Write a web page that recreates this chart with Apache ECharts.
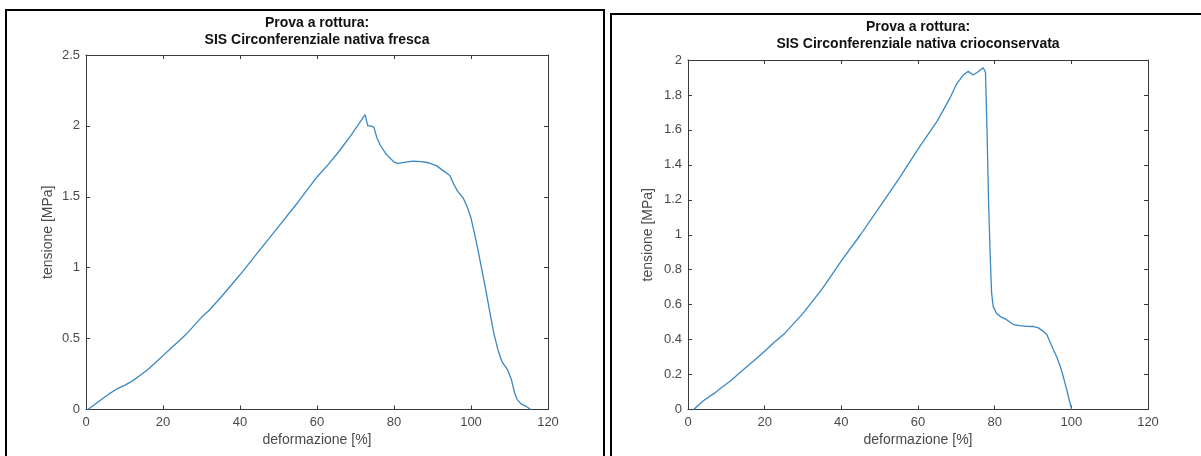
<!DOCTYPE html>
<html><head><meta charset="utf-8">
<script src="https://cdn.jsdelivr.net/npm/echarts@6/dist/echarts.min.js"></script>
<style>html,body{margin:0;padding:0;background:#fff}#c{width:1201px;height:456px}</style>
</head><body><div id="c"></div>
<script>
// ---- data ----
const titleLeft = ['Prova a rottura:', 'SIS Circonferenziale nativa fresca'];
const titleRight = ['Prova a rottura:', 'SIS Circonferenziale nativa crioconservata'];
const xName = 'deformazione [%]';
const yName = 'tensione [MPa]';
const xRange = [0, 120, 20];
const yRangeLeft = [0, 2.5, 0.5];
const yRangeRight = [0, 2, 0.2];

const frescaStrain = [0.5,2,4,6,8,10,12,14,16,18,20,22,24,26,28,29,30,32,35,40,45,50,55,60,63,66,69,71,72.5,73.2,74,74.8,75.5,76.5,78,80,81,83,85,87,89,91,92.5,94.5,95.5,96.5,98,99,100,101,102,103,104,105,106,107,108,109.5,110.5,111.3,112,113,114.5,115.5];
const frescaStress = [0,0.03,0.07,0.11,0.145,0.17,0.2,0.24,0.28,0.33,0.38,0.43,0.48,0.53,0.59,0.62,0.65,0.7,0.79,0.95,1.12,1.29,1.46,1.64,1.73,1.83,1.94,2.02,2.08,2.0,2.0,1.99,1.92,1.86,1.8,1.745,1.735,1.745,1.752,1.748,1.74,1.72,1.69,1.65,1.59,1.54,1.49,1.43,1.35,1.23,1.1,0.96,0.82,0.67,0.53,0.42,0.34,0.28,0.21,0.12,0.07,0.04,0.02,0];

const crioStrain = [1.5,4,7,9,11,13.5,16,18,20,22.5,25,27.5,30,35,40,45,50,55,60,65,68.4,70,71.8,73.1,74.4,75.5,77,77.6,78,78.4,78.8,79.2,79.6,80.5,81.4,83.1,84.9,86.5,88.4,90,91.4,92.5,93.6,95.3,96.2,97.1,98,98.8,99.5,100.1];
const crioStress = [0,0.05,0.095,0.13,0.162,0.21,0.257,0.295,0.333,0.385,0.43,0.49,0.55,0.69,0.85,1.0,1.16,1.32,1.49,1.65,1.785,1.86,1.914,1.935,1.914,1.93,1.956,1.93,1.6,1.2,0.9,0.667,0.59,0.55,0.533,0.514,0.486,0.48,0.476,0.475,0.467,0.45,0.429,0.343,0.3,0.248,0.18,0.114,0.05,0];

// ---- build ----
const AX = '#3a3a3a';
const LBL = '#4a4a4a';
const FONT = 'Liberation Sans';
const LINE = '#3a88c4';

function pairs(xs, ys) { return xs.map((x, i) => [x, ys[i]]); }

function xAxes(gi) {
  const base = {
    type: 'value', gridIndex: gi, min: xRange[0], max: xRange[1], interval: xRange[2],
    splitLine: { show: false },
    axisLine: { show: true, onZero: false, lineStyle: { color: AX, width: 1 } },
    axisTick: { show: true, inside: true, length: 4, lineStyle: { color: AX } }
  };
  return [
    Object.assign({}, base, {
      position: 'bottom', name: xName, nameLocation: 'middle', nameGap: 22,
      nameTextStyle: { color: LBL, fontSize: 14, fontFamily: FONT },
      axisLabel: { margin: 6, color: LBL, fontSize: 13, fontFamily: FONT }
    }),
    Object.assign({}, base, { position: 'top', axisLabel: { show: false } })
  ];
}
function yAxes(gi, r, gap) {
  const base = {
    type: 'value', gridIndex: gi, min: r[0], max: r[1], interval: r[2],
    splitLine: { show: false },
    axisLine: { show: true, onZero: false, lineStyle: { color: AX, width: 1 } },
    axisTick: { show: true, inside: true, length: 4, lineStyle: { color: AX } }
  };
  return [
    Object.assign({}, base, {
      position: 'left', name: yName, nameLocation: 'middle', nameGap: gap,
      nameTextStyle: { color: LBL, fontSize: 14, fontFamily: FONT },
      axisLabel: { margin: 6, color: LBL, fontSize: 13, fontFamily: FONT }
    }),
    Object.assign({}, base, { position: 'right', axisLabel: { show: false } })
  ];
}
function titleText(lines, cx, y0) {
  return lines.map((t, i) => ({
    type: 'text', silent: true,
    style: { text: t, x: cx, y: y0 + i * 17, textAlign: 'center', textVerticalAlign: 'middle',
      font: 'bold 14px "Liberation Sans"', fill: '#111' }
  }));
}

const chart = echarts.init(document.getElementById('c'), null, { renderer: 'canvas' });
chart.setOption({
  backgroundColor: '#fff',
  animation: false,
  grid: [
    { left: 86, top: 55, width: 462, height: 354.5, containLabel: false },
    { left: 688, top: 60, width: 460, height: 349.5, containLabel: false }
  ],
  xAxis: xAxes(0).concat(xAxes(1)),
  yAxis: yAxes(0, yRangeLeft, 31).concat(yAxes(1, yRangeRight, 33)),
  series: [
    { type: 'line', xAxisIndex: 0, yAxisIndex: 0, data: pairs(frescaStrain, frescaStress),
      showSymbol: false, lineStyle: { color: LINE, width: 1.3 }, clip: true },
    { type: 'line', xAxisIndex: 2, yAxisIndex: 2, data: pairs(crioStrain, crioStress),
      showSymbol: false, lineStyle: { color: LINE, width: 1.3 }, clip: true }
  ],
  graphic: [
    { type: 'rect', silent: true, shape: { x: 6, y: 10, width: 598, height: 520 },
      style: { fill: 'none', stroke: '#000', lineWidth: 2 } },
    { type: 'rect', silent: true, shape: { x: 611, y: 14, width: 620, height: 520 },
      style: { fill: 'none', stroke: '#000', lineWidth: 2 } }
  ].concat(titleText(titleLeft, 317, 23)).concat(titleText(titleRight, 918, 27))
});
</script>
</body></html>
